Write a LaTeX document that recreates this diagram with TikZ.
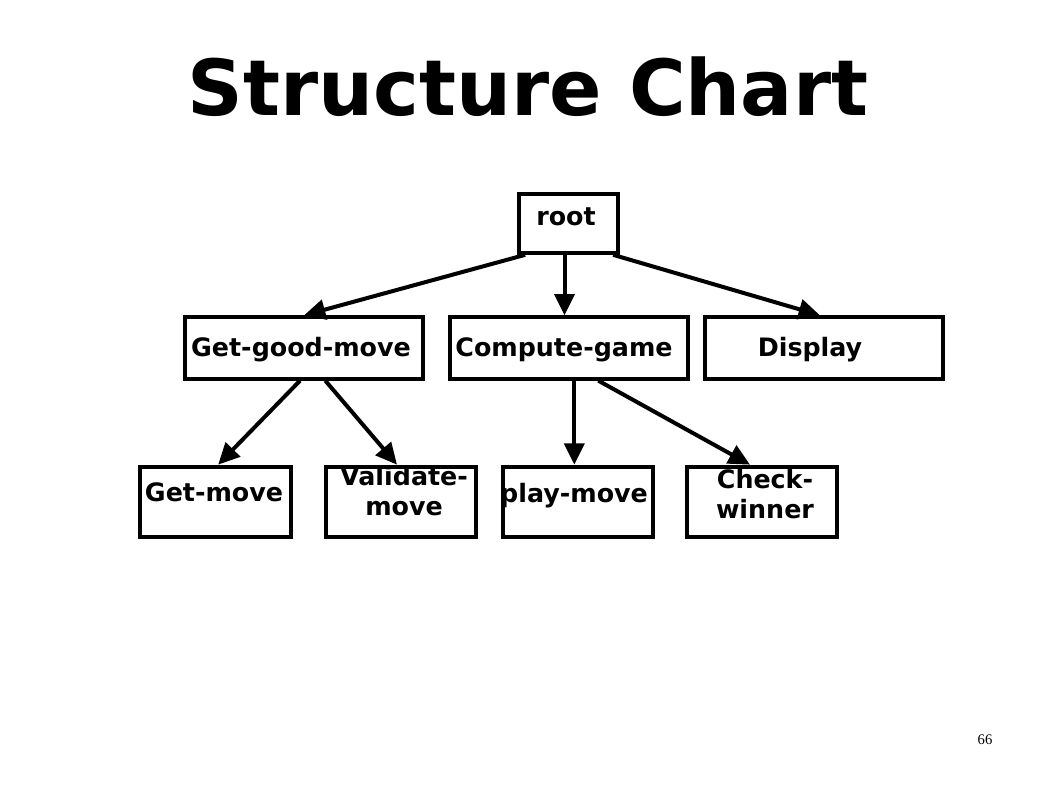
\documentclass[tikz,border=0pt]{standalone}
\usepackage{fontspec}
\setmainfont{DejaVu Sans}
\newfontfamily\pagenumfont{Liberation Serif}
\usetikzlibrary{arrows.meta,calc}

\tikzset{
  box/.style={draw,line width=3pt,minimum width=178pt,minimum height=46pt,inner sep=0pt},
  leafbox/.style={box,minimum width=113pt,minimum height=53pt},
  lbl/.style={font=\fontsize{19}{22.5}\selectfont\bfseries,inner sep=0pt,align=center},
  call/.style={draw,line width=3pt,-{Triangle[length=16pt,width=15pt]}}
}

\begin{document}
\begin{tikzpicture}[x=0.75pt,y=-0.75pt]
  \useasboundingbox[fill=white] (0,0) rectangle (1058,793);

  \node[font=\fontsize{58}{68}\selectfont\bfseries,anchor=base] (title) at (528,115) {Structure Chart};

  \node[box,minimum width=74pt,minimum height=44pt] (root) at (568.5,223.5) {};
  \node[lbl,anchor=base] (rootl) at (566,225) {root};

  \node[box] (ggm) at (304,348) {};
  \node[box] (cg) at (569,348) {};
  \node[box] (disp) at (824,348) {};
  \node[lbl,anchor=base] (ggml) at (301,356) {Get-good-move};
  \node[lbl,anchor=base] (cgl) at (564,356) {Compute-game};
  \node[lbl,anchor=base] (displ) at (810,356) {Display};

  \node[leafbox] (gmv) at (215.5,502) {};
  \node[leafbox] (vm) at (401,502) {};
  \node[leafbox] (pm) at (578,502) {};
  \node[leafbox] (cw) at (762,502) {};
  \node[lbl,anchor=base] (gmvl) at (214,501) {Get-move};
  \node[lbl] (vml) at (404,491) {Validate-\\move};
  \node[lbl,anchor=base] (pml) at (574,502) {play-move};
  \node[lbl] (cwl) at (765,494) {Check-\\winner};

  \path[call] ([xshift=6pt]root.south west) -- (ggm.north);
  \path[call] ([xshift=-3pt]root.south) -- ([xshift=-3pt]root.south |- cg.north);
  \path[call] ([xshift=-5pt]root.south east) -- ([xshift=-3pt]disp.north);

  \path[call] ([xshift=-3pt]ggm.south) -- ([xshift=2pt]gmv.north);
  \path[call] ([xshift=16pt]ggm.south) -- ([xshift=-3pt]vm.north);
  \path[call] ([xshift=4pt]cg.south) -- ([xshift=4pt]cg.south |- pm.north);
  \path[call] ([xshift=22pt]cg.south) -- ([xshift=-9pt]cw.north);

  \node[font=\pagenumfont\fontsize{11}{13}\selectfont,anchor=base] (pagenum) at (985,744) {66};
\end{tikzpicture}
\end{document}
